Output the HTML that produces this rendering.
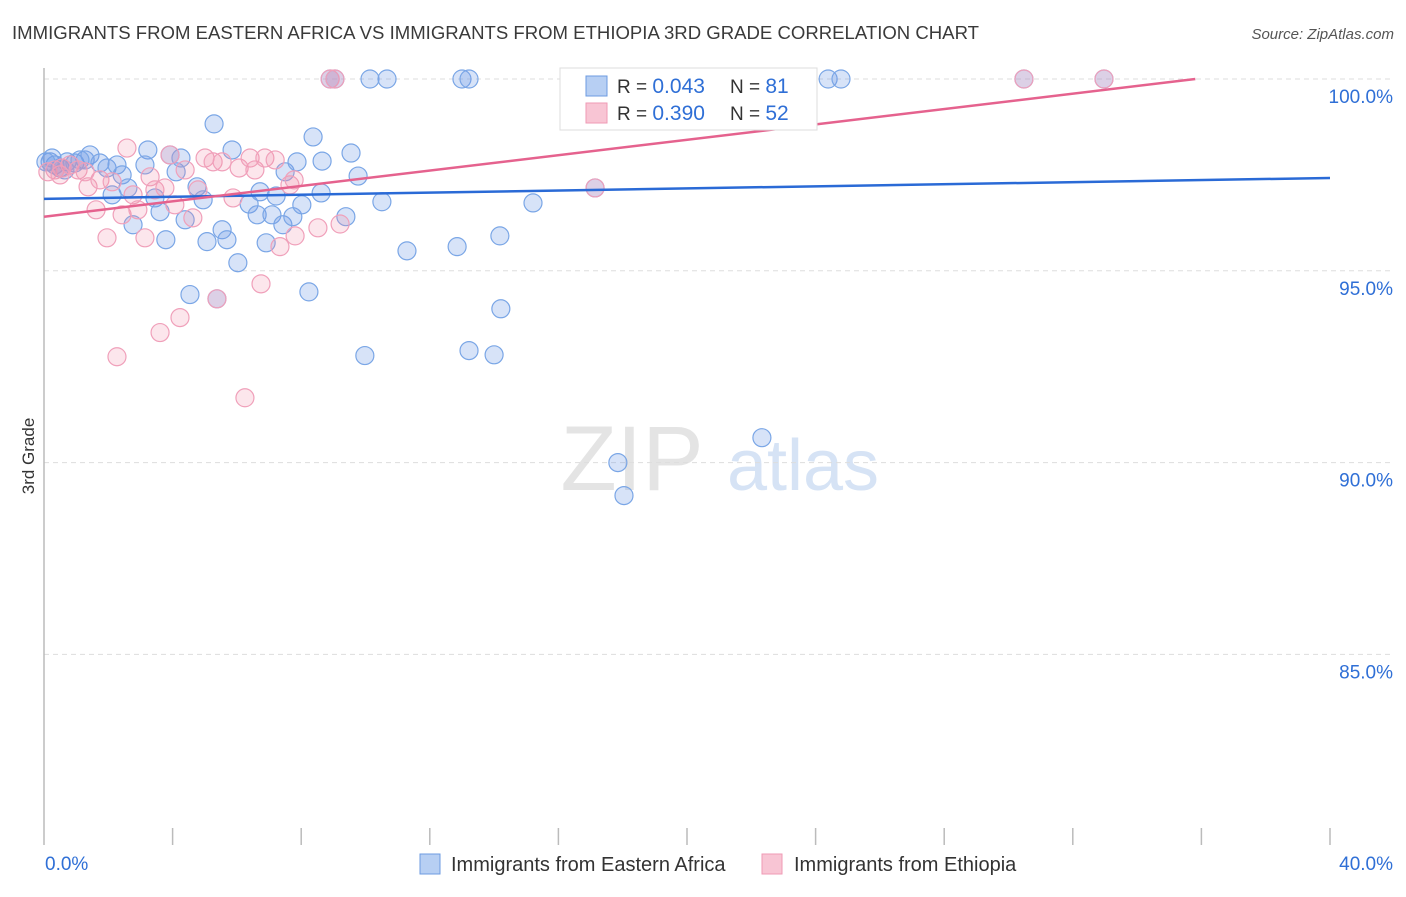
<!DOCTYPE html>
<html><head><meta charset="utf-8"><style>
body{margin:0;background:#fff;font-family:"Liberation Sans",sans-serif}
svg text{font-family:"Liberation Sans",sans-serif}
</style></head><body>
<svg id="chart" width="1406" height="892" viewBox="0 0 1406 892" xmlns="http://www.w3.org/2000/svg">
<text x="12" y="39" font-size="18" fill="#3a3a3a" textLength="967" lengthAdjust="spacingAndGlyphs">IMMIGRANTS FROM EASTERN AFRICA VS IMMIGRANTS FROM ETHIOPIA 3RD GRADE CORRELATION CHART</text>
<text x="1394" y="39" font-size="15" fill="#555" text-anchor="end" font-style="italic">Source: ZipAtlas.com</text>
<g>
<text x="632" y="490" font-size="92" fill="#e4e4e4" text-anchor="middle" font-family="Liberation Serif">ZIP</text>
<text x="803" y="490" font-size="72" fill="#d6e3f5" text-anchor="middle">atlas</text>
</g>
<g id="grid"></g>
<line x1="44" y1="68" x2="44" y2="845" stroke="#bbb" stroke-width="1.5"/>
<text transform="translate(34,456) rotate(-90)" font-size="17" fill="#333" text-anchor="middle">3rd Grade</text>
<g id="xticks"></g>
<g id="pts"></g>
<g id="trends"></g>
<g>
<rect x="560" y="68" width="257" height="62" fill="#fff" stroke="#ddd"/>
<rect x="586" y="76" width="21" height="20" fill="#b7cff3" stroke="#6c9be0"/>
<rect x="586" y="103" width="21" height="20" fill="#f8c5d4" stroke="#ef9ab5"/>
<text x="617" y="93" font-size="19" fill="#333">R = <tspan fill="#2f6fd6" font-size="21">0.043</tspan></text>
<text x="730" y="93" font-size="19" fill="#333">N = <tspan fill="#2f6fd6" font-size="21"> 81</tspan></text>
<text x="617" y="120" font-size="19" fill="#333">R = <tspan fill="#2f6fd6" font-size="21">0.390</tspan></text>
<text x="730" y="120" font-size="19" fill="#333">N = <tspan fill="#2f6fd6" font-size="21">52</tspan></text>
</g>
<g>
<rect x="420" y="854" width="20" height="20" fill="#b7cff3" stroke="#6c9be0"/>
<text x="451" y="871" font-size="20" fill="#333">Immigrants from Eastern Africa</text>
<rect x="762" y="854" width="20" height="20" fill="#f8c5d4" stroke="#ef9ab5"/>
<text x="794" y="871" font-size="20" fill="#333">Immigrants from Ethiopia</text>
</g>
<text x="45" y="870" font-size="19" fill="#2f6fd6">0.0%</text>
<text x="1393" y="870" font-size="19" fill="#2f6fd6" text-anchor="end">40.0%</text>
</svg>
<script>
const yTicks=[100,95,90,85];
const yTickLabels=["100.0%","95.0%","90.0%","85.0%"];
const xTickVals=[4,8,12,16,20,24,28,32,36,40];
const blueX=[0.19,0.34,0.50,0.72,0.96,1.28,1.43,1.74,1.96,2.27,2.43,2.12,2.61,2.77,3.23,3.14,3.45,3.61,3.79,3.92,4.11,4.26,4.39,4.54,4.76,4.95,5.07,5.29,5.54,5.69,5.85,6.03,6.38,6.63,6.72,6.91,7.09,7.22,7.43,7.50,7.74,7.87,8.02,8.24,8.37,8.62,8.65,9.39,9.55,9.77,9.98,10.14,10.67,10.51,11.29,12.85,13.00,13.22,13.22,14.00,14.18,14.21,15.21,16.55,17.33,17.85,18.04,22.33,24.39,24.79,30.48,32.97,17.14,5.38,9.05,8.90,0.25,0.06,0.65,1.12];
const blueY=[97.84,97.76,97.68,97.84,97.81,97.89,98.02,97.81,97.68,97.76,97.50,96.98,97.16,96.20,98.15,97.76,96.90,96.54,95.81,98.02,97.58,97.94,96.33,94.38,97.19,96.85,95.76,98.83,96.07,95.81,98.15,95.21,96.74,96.46,97.06,95.73,96.46,96.95,96.20,97.58,96.41,97.84,96.72,94.45,98.49,97.03,97.86,96.41,98.07,97.47,92.79,100,100,96.80,95.52,95.63,100,100,92.92,92.81,95.91,94.01,96.77,100,100,90.0,89.14,90.65,100,100,100,100,97.16,94.27,100,100,97.94,97.84,97.63,97.89];
const pinkX=[0.12,0.34,0.56,0.81,1.06,1.37,1.62,1.74,1.96,2.12,2.27,2.43,2.58,2.77,2.92,3.14,3.30,3.45,3.61,3.76,3.92,4.07,4.23,4.39,4.63,4.79,5.01,5.26,5.38,5.54,5.88,6.07,6.25,6.41,6.56,6.75,6.87,7.19,7.34,7.65,7.78,7.81,8.52,9.21,8.90,9.05,17.14,23.30,30.48,32.97,0.50,1.28];
const pinkY=[97.58,97.63,97.68,97.76,97.63,97.19,96.59,97.37,95.86,97.32,92.76,96.46,98.20,96.98,96.59,95.86,97.45,97.11,93.39,97.16,98.02,96.72,93.78,97.63,96.38,97.11,97.94,97.84,94.27,97.84,96.90,97.68,91.69,97.94,97.63,94.66,97.94,97.89,95.63,97.24,97.37,95.91,96.12,96.22,100,100,97.16,100,100,100,97.50,97.58];
const blueTrend=[96.875,97.42];
const pinkTrend=[96.41,100.42];
const NS="http://www.w3.org/2000/svg";
const xs=v=>44+v/40*1286;
const ys=v=>79+(100-v)*38.36;
function mk(tag,attrs,parent){const e=document.createElementNS(NS,tag);for(const k in attrs)e.setAttribute(k,attrs[k]);parent.appendChild(e);return e;}
const grid=document.getElementById('grid');
yTicks.forEach((t,i)=>{
 const l=mk('line',{x1:44,x2:1394,y1:ys(t),y2:ys(t),stroke:'#ddd','stroke-dasharray':'5,4'},grid);
 
 
 const tx=mk('text',{x:1393,y:ys(t)+24,'font-size':19,fill:'#2f6fd6','text-anchor':'end'},grid);
 tx.textContent=yTickLabels[i];
 
 
});
const xt=document.getElementById('xticks');
xTickVals.forEach(v=>{
 const l=mk('line',{x1:xs(v),x2:xs(v),y1:828,y2:845,stroke:'#bbb','stroke-width':1.5},xt);
 
 
});
const pts=document.getElementById('pts');
blueX.forEach((x,i)=>{
 const c=mk('circle',{cx:xs(x),cy:ys(blueY[i]),r:9,fill:'rgba(110,155,230,0.28)',stroke:'#7aa6e6','stroke-width':1.2},pts);
 
 
});
pinkX.forEach((x,i)=>{
 const c=mk('circle',{cx:xs(x),cy:ys(pinkY[i]),r:9,fill:'rgba(240,140,170,0.22)',stroke:'#f0a0ba','stroke-width':1.2},pts);
 
 
});
const tr=document.getElementById('trends');
const bl=mk('line',{x1:xs(0),y1:ys(blueTrend[0]),x2:xs(40),y2:ys(blueTrend[1]),stroke:'#2a6ad6','stroke-width':2.5},tr);


const slope=(pinkTrend[1]-pinkTrend[0])/40;
const xEnd=Math.min(40,(100-pinkTrend[0])/slope);
const pl=mk('line',{x1:xs(0),y1:ys(pinkTrend[0]),x2:xs(xEnd),y2:ys(pinkTrend[0]+slope*xEnd),stroke:'#e5628e','stroke-width':2.5},tr);


</script>
</body></html>
